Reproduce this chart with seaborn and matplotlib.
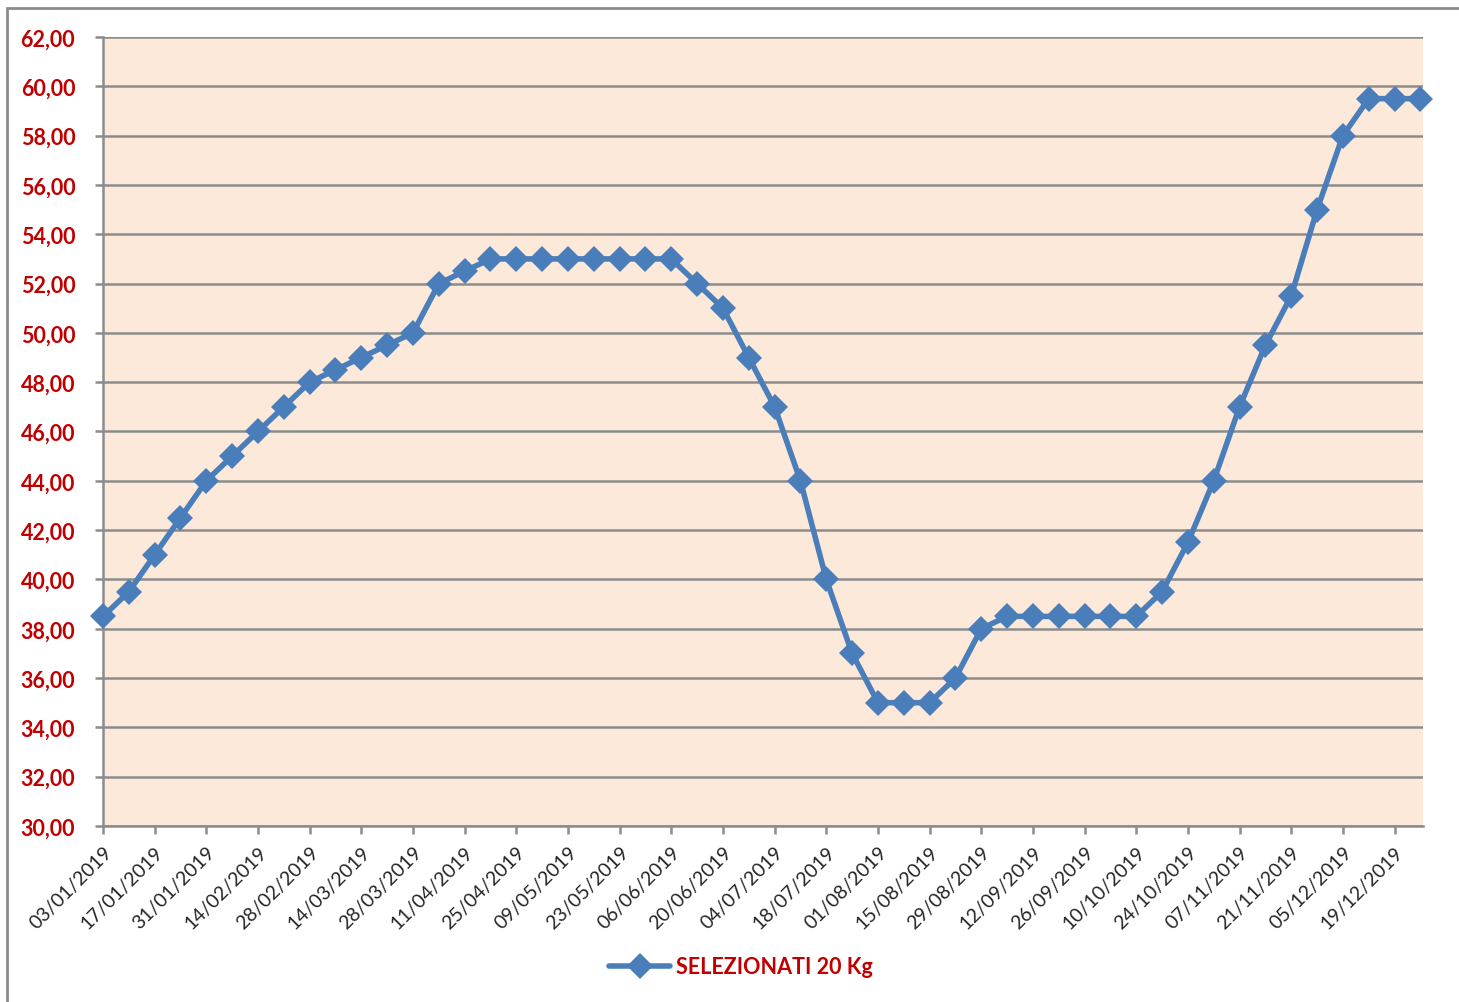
import pandas as pd
import numpy as np
import matplotlib
matplotlib.use("Agg")
import matplotlib.pyplot as plt
from matplotlib.patches import Rectangle
import seaborn as sns

# weekly prices, 2019
dates = pd.date_range("2019-01-03", periods=52, freq="7D")
prezzi = [38.5, 39.5, 41.0, 42.5, 44.0, 45.0, 46.0, 47.0, 48.0, 48.5,
          49.0, 49.5, 50.0, 52.0, 52.5, 53.0, 53.0, 53.0, 53.0, 53.0,
          53.0, 53.0, 53.0, 52.0, 51.0, 49.0, 47.0, 44.0, 40.0, 37.0,
          35.0, 35.0, 35.0, 36.0, 38.0, 38.5, 38.5, 38.5, 38.5, 38.5,
          38.5, 39.5, 41.5, 44.0, 47.0, 49.5, 51.5, 55.0, 58.0, 59.5,
          59.5, 59.5]
serie = "SELEZIONATI 20 Kg"

df = pd.DataFrame({"idx": np.arange(len(prezzi)), "prezzo": prezzi, "serie": serie})

sns.set_style("white")
plt.rcParams["font.family"] = ["Lato", "DejaVu Sans"]

blu = "#4A7EBB"
rosso = "#C00000"
grigio = "#8C8C8C"

fig = plt.figure(figsize=(14.59, 10.03), dpi=100)
ax = fig.add_axes([0.0706, 0.1755, 0.9047, 0.7866])
ax.set_facecolor("#FCE9DA")

sns.lineplot(data=df, x="idx", y="prezzo", hue="serie", palette=[blu],
             marker="D", markersize=13, markeredgewidth=0, linewidth=4,
             ax=ax, legend=False, zorder=3, clip_on=False)

ax.set_xlim(0, len(prezzi) - 0.9)
ax.set_ylim(30, 62)
ax.set_yticks(np.arange(30, 63, 2))
ax.set_yticklabels([f"{v:.2f}".replace(".", ",") for v in np.arange(30, 63, 2)],
                   color=rosso, fontsize=15.5, fontweight="bold")
xt = np.arange(0, len(prezzi), 2)
ax.set_xticks(xt)
ax.set_xticklabels([dates[i].strftime("%d/%m/%Y") for i in xt],
                   rotation=45, ha="right", rotation_mode="anchor", fontsize=14)
ax.set_xlabel("")
ax.set_ylabel("")
ax.grid(axis="y", color=grigio, linewidth=1.8)
ax.set_axisbelow(True)
for s in ["top", "right"]:
    ax.spines[s].set_visible(False)
for s in ["left", "bottom"]:
    ax.spines[s].set_color(grigio)
    ax.spines[s].set_linewidth(1.8)
ax.tick_params(axis="both", which="major", direction="out", length=6, width=1.8,
               color=grigio, bottom=True, left=True)
ax.tick_params(axis="y", pad=14)
ax.tick_params(axis="x", pad=6)

# legend below the chart
leg_handle = plt.Line2D([], [], color=blu, marker="D", markersize=13,
                        markeredgewidth=0, linewidth=4)
leg = fig.legend([leg_handle], [serie], loc="center", bbox_to_anchor=(0.508, 0.035),
                 frameon=False, handlelength=2.8, handletextpad=0.3,
                 prop={"weight": "bold", "size": 15.5})
for t in leg.get_texts():
    t.set_color(rosso)

# outer chart frame
fig.patches.append(Rectangle((7 / 1459, -0.01), 1.1, 1 - 9 / 1003 + 0.01,
                             transform=fig.transFigure, fill=False,
                             edgecolor=grigio, linewidth=2))

fig.savefig("out.png", dpi=100)
